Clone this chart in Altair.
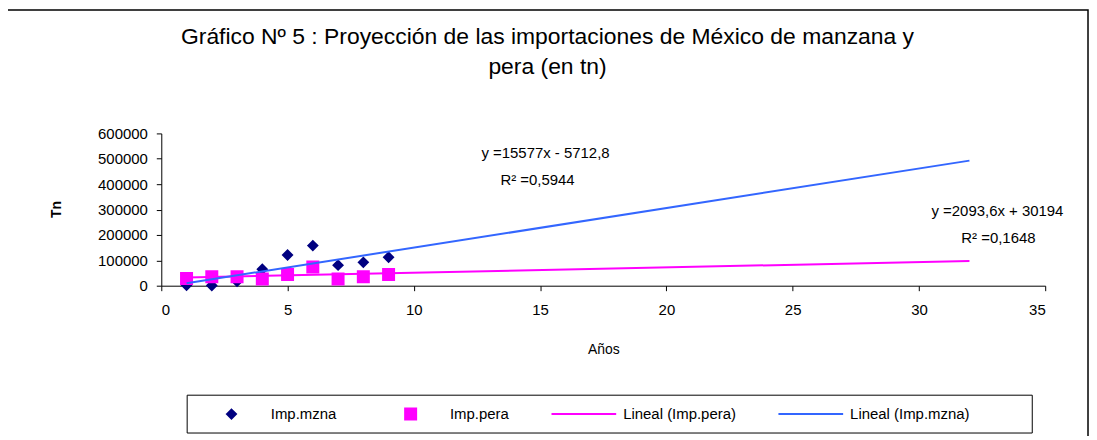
import altair as alt
import pandas as pd

# ---------------- data ----------------
years = [1, 2, 3, 4, 5, 6, 7, 8, 9]
imp_mzna = [2000, 1000, 17000, 65000, 121000, 158000, 81000, 92000, 112000]
imp_pera = [28000, 35000, 35000, 26000, 44000, 74000, 26000, 35000, 44000]

trend_names = ["Lineal (Imp.pera)", "Lineal (Imp.mzna)"]
trend_slopes = [2093.6, 15577.0]
trend_intercepts = [30194.0, -5712.8]
trend_x = [1, 32]

series_names = ["Imp.mzna", "Imp.pera", "Lineal (Imp.pera)", "Lineal (Imp.mzna)"]
equation_texts = ["y =15577x - 5712,8", "R² =0,5944", "y =2093,6x + 30194", "R² =0,1648"]
title_lines = ["Gráfico Nº 5 : Proyección de las importaciones de México de manzana y",
               "pera (en tn)"]
x_title = "Años"
y_title = "Tn"
x_ticks = [0, 5, 10, 15, 20, 25, 30, 35]
y_ticks = [0, 100000, 200000, 300000, 400000, 500000, 600000]

# ---------------- styles ----------------
FONT = "Liberation Sans"
colors = ["#000080", "#FF00FF", "#FF00FF", "#3366FF"]
shapes = ["M-0.14,0L0,-0.14L0.14,0L0,0.14Z",
          "M-0.17,-0.17H0.17V0.17H-0.17Z",
          "M-1,0H1",
          "M-1,0H1"]
SYM = 4225

points_df = pd.DataFrame({
    "x": years + years,
    "value": imp_mzna + imp_pera,
    "series": [series_names[0]] * len(years) + [series_names[1]] * len(years),
})

trend_rows = []
for name, s, b in zip(trend_names, trend_slopes, trend_intercepts):
    for xv in trend_x:
        trend_rows.append({"x": xv, "series": name, "slope": s, "intercept": b})
trend_df = pd.DataFrame(trend_rows)

legend = alt.Legend(
    title=None, orient="none", legendX=26, legendY=263,
    direction="horizontal", columns=4,
    padding=11,
    symbolSize=SYM, symbolStrokeWidth=2, clipHeight=16,
    labelFont=FONT, labelFontSize=15, labelColor="black",
    labelOffset=6, columnPadding=41,
)

shape_scale = alt.Scale(domain=series_names, range=shapes)
color_scale = alt.Scale(domain=series_names, range=colors)

x_enc = alt.X(
    "x:Q",
    scale=alt.Scale(domain=[0, 35], nice=False),
    axis=alt.Axis(
        values=x_ticks, title=x_title, grid=False, labelOverlap=False,
        domainColor="black", tickColor="black", tickSize=5,
        labelFont=FONT, labelFontSize=15, labelColor="black", labelPadding=12,
        titleFont=FONT, titleFontSize=14, titleFontWeight="normal",
        titleColor="black", titleY=64, titleBaseline="middle",
    ),
)
y_enc = alt.Y(
    "value:Q",
    scale=alt.Scale(domain=[0, 600000], nice=False),
    axis=alt.Axis(
        values=y_ticks, title=y_title, format="d", grid=False, labelOverlap=False,
        domainColor="black", tickColor="black", tickSize=5,
        labelFont=FONT, labelFontSize=15, labelColor="black", labelPadding=9,
        titleFont=FONT, titleFontSize=14, titleFontWeight="bold",
        titleColor="black", titleX=-105, titleY=76, titleAngle=270,
        titleAlign="center", titleBaseline="middle",
    ),
)

points = alt.Chart(points_df).mark_point(
    filled=False, size=SYM, strokeWidth=2, opacity=1
).encode(
    x=x_enc,
    y=y_enc,
    shape=alt.Shape("series:N", scale=shape_scale, legend=legend),
    fill=alt.Fill("series:N", scale=color_scale, legend=legend),
    stroke=alt.Stroke("series:N", scale=color_scale, legend=legend),
)

lines = alt.Chart(trend_df).transform_calculate(
    value="datum.slope * datum.x + datum.intercept"
).mark_line(strokeWidth=2).encode(
    x=x_enc,
    y=y_enc,
    stroke=alt.Stroke("series:N", scale=color_scale, legend=legend),
)

# equation labels (annotation positions in pixels)
label_pos = [(386, 20), (378, 47), (840, 78), (841, 105)]
labels = []
for txt, (px, py) in zip(equation_texts, label_pos):
    labels.append(
        alt.Chart(pd.DataFrame({"t": [txt]})).mark_text(
            font=FONT, fontSize=15, color="black", align="center", baseline="middle"
        ).encode(x=alt.value(px), y=alt.value(py), text="t:N")
    )

# outer chart frame and legend box (decoration)
frame = alt.Chart(pd.DataFrame({"f": [0]})).mark_rect(
    fillOpacity=0, stroke="black", strokeWidth=1.5
).encode(x=alt.value(-155), x2=alt.value(931), y=alt.value(-124), y2=alt.value(420))

legend_box = alt.Chart(pd.DataFrame({"f": [0]})).mark_rect(
    fillOpacity=0, stroke="black", strokeWidth=1
).encode(x=alt.value(26), x2=alt.value(875), y=alt.value(263), y2=alt.value(301))

chart = alt.layer(frame, legend_box, points, lines, *labels).properties(
    width=888,
    height=153,
    autosize=alt.AutoSizeParams(type="none"),
    padding={"left": 154, "top": 125, "right": 44, "bottom": 150},
    background="white",
    title=alt.TitleParams(
        text=title_lines, font=FONT, fontSize=23, fontWeight="normal",
        color="black", anchor="middle", dx=-56, dy=70, offset=0, lineHeight=30,
    ),
).configure_view(stroke="transparent")

chart.save("out.html", embed_options={"renderer": "svg", "actions": False})
